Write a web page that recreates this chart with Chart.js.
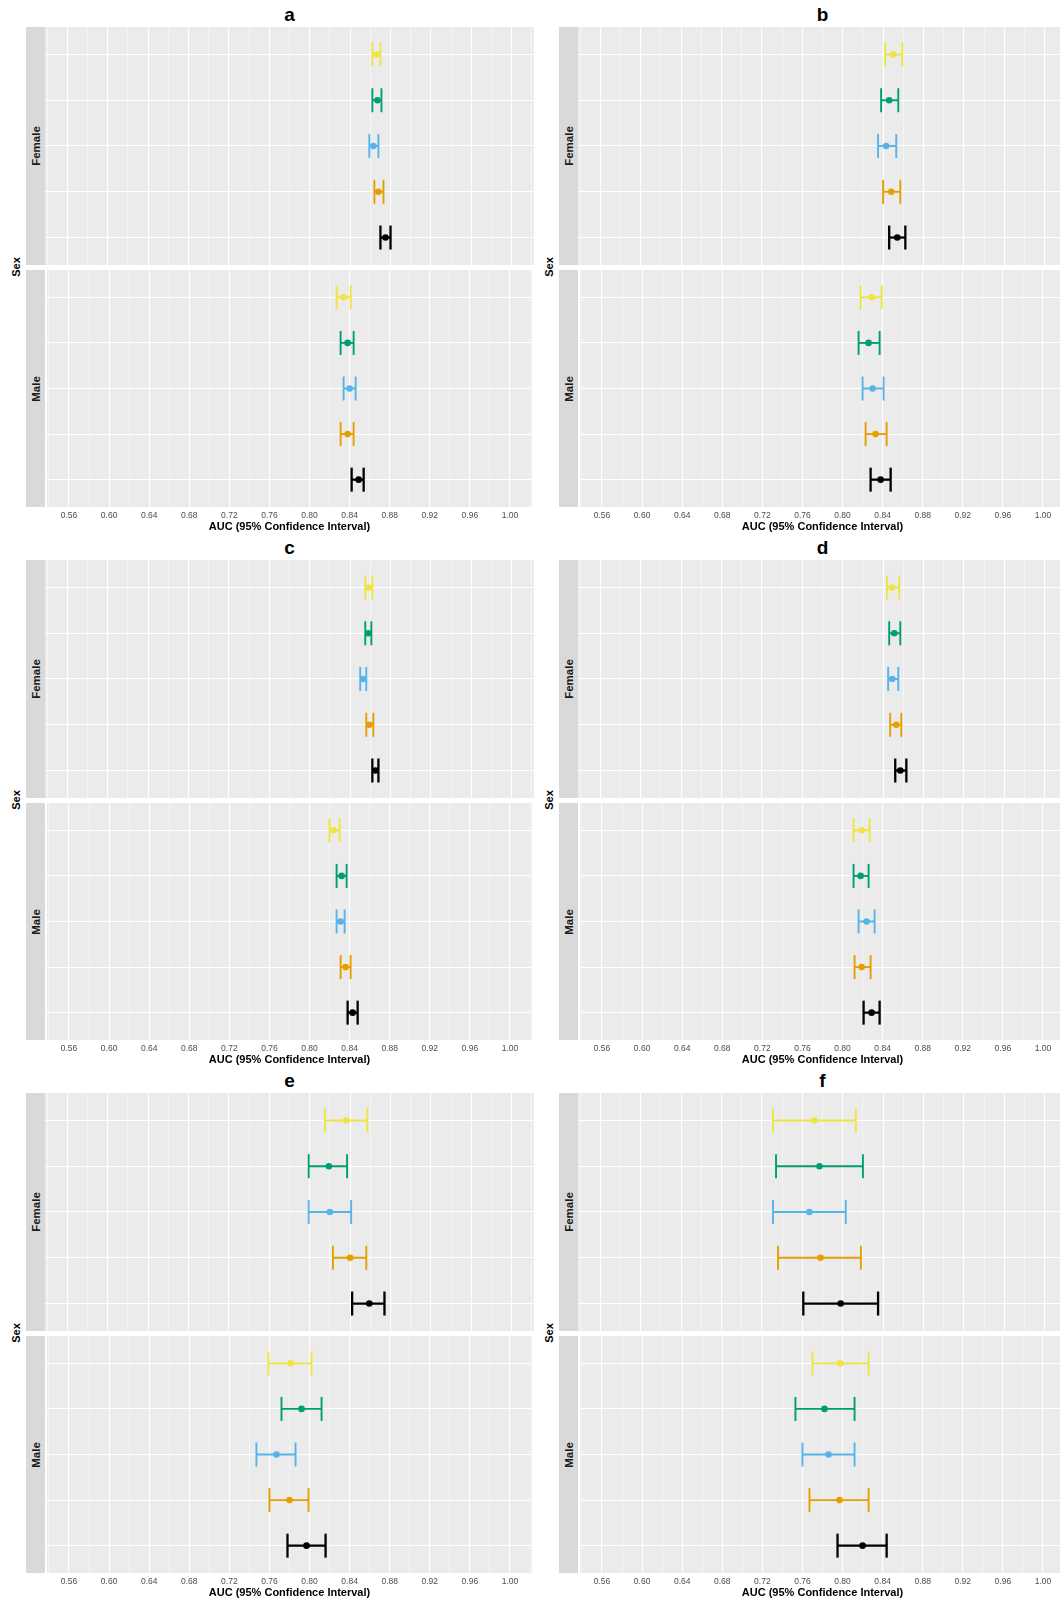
<!DOCTYPE html>
<html>
<head>
<meta charset="utf-8">
<script src="https://cdn.jsdelivr.net/npm/chart.js@4.4.1/dist/chart.umd.min.js"></script>
<style>
	body { margin: 0; background: #fff; font-family: 'Liberation Sans', Arial, sans-serif; overflow: hidden; }
	#page { position: relative; width: 1060px; height: 1600px; overflow: hidden; }
	.abs { position: absolute; }
	.title { font-weight: bold; font-size: 19px; color: #000; text-align: center; width: 40px; line-height: 20px; }
	.strip { background: #d9d9d9; }
	.rot { position: absolute; left: 50%; top: 50%; transform: translate(-50%, -50%) rotate(-90deg); white-space: nowrap; font-weight: bold; font-size: 11.5px; }
	.strip .rot { color: #1a1a1a; }
	.ylab .rot { color: #000; font-size: 11px; }
	canvas { position: absolute; }
</style>
</head>
<body>
<div id="page"></div>
<script>
	// models in plotting order (top to bottom within each facet)
	var models = ['Model 1', 'Model 2', 'Model 3', 'Model 4', 'Model 5'];
	var modelColors = ['#F0E442', '#009E73', '#56B4E9', '#E69F00', '#000000'];
	var sexes = ['Female', 'Male'];
	var panelLabels = ['a', 'b', 'c', 'd', 'e', 'f'];
	var xLimits = [0.56, 1.00];
	var xMajorTicks = [0.56, 0.60, 0.64, 0.68, 0.72, 0.76, 0.80, 0.84, 0.88, 0.92, 0.96, 1.00];
	var xMinorTicks = [0.54, 0.58, 0.62, 0.66, 0.70, 0.74, 0.78, 0.82, 0.86, 0.90, 0.94, 0.98, 1.02];

	// AUC and 95% CI per panel / sex
	var aFemaleAuc = [0.866, 0.867, 0.863, 0.868, 0.875];
	var aFemaleLo  = [0.862, 0.862, 0.859, 0.864, 0.870];
	var aFemaleHi  = [0.870, 0.871, 0.868, 0.873, 0.880];
	var aMaleAuc   = [0.834, 0.838, 0.840, 0.838, 0.849];
	var aMaleLo    = [0.827, 0.831, 0.834, 0.831, 0.842];
	var aMaleHi    = [0.841, 0.844, 0.846, 0.844, 0.854];

	var bFemaleAuc = [0.850, 0.846, 0.843, 0.848, 0.854];
	var bFemaleLo  = [0.842, 0.838, 0.835, 0.840, 0.846];
	var bFemaleHi  = [0.859, 0.855, 0.853, 0.857, 0.862];
	var bMaleAuc   = [0.829, 0.826, 0.830, 0.833, 0.838];
	var bMaleLo    = [0.818, 0.816, 0.820, 0.823, 0.828];
	var bMaleHi    = [0.839, 0.837, 0.841, 0.844, 0.848];

	var cFemaleAuc = [0.858, 0.858, 0.853, 0.859, 0.865];
	var cFemaleLo  = [0.855, 0.855, 0.850, 0.856, 0.862];
	var cFemaleHi  = [0.862, 0.861, 0.856, 0.863, 0.868];
	var cMaleAuc   = [0.824, 0.832, 0.831, 0.836, 0.843];
	var cMaleLo    = [0.820, 0.827, 0.827, 0.831, 0.838];
	var cMaleHi    = [0.830, 0.837, 0.835, 0.841, 0.848];

	var dFemaleAuc = [0.849, 0.851, 0.849, 0.853, 0.857];
	var dFemaleLo  = [0.844, 0.846, 0.845, 0.847, 0.852];
	var dFemaleHi  = [0.856, 0.857, 0.855, 0.858, 0.863];
	var dMaleAuc   = [0.819, 0.818, 0.824, 0.819, 0.829];
	var dMaleLo    = [0.811, 0.811, 0.816, 0.812, 0.821];
	var dMaleHi    = [0.827, 0.826, 0.832, 0.828, 0.837];

	var eFemaleAuc = [0.836, 0.819, 0.820, 0.840, 0.859];
	var eFemaleLo  = [0.815, 0.799, 0.799, 0.823, 0.842];
	var eFemaleHi  = [0.857, 0.837, 0.841, 0.856, 0.874];
	var eMaleAuc   = [0.781, 0.792, 0.767, 0.780, 0.797];
	var eMaleLo    = [0.759, 0.772, 0.747, 0.760, 0.778];
	var eMaleHi    = [0.802, 0.812, 0.786, 0.799, 0.816];

	var fFemaleAuc = [0.772, 0.777, 0.767, 0.778, 0.798];
	var fFemaleLo  = [0.731, 0.734, 0.731, 0.736, 0.761];
	var fFemaleHi  = [0.813, 0.820, 0.803, 0.818, 0.835];
	var fMaleAuc   = [0.798, 0.782, 0.786, 0.797, 0.820];
	var fMaleLo    = [0.770, 0.753, 0.760, 0.767, 0.795];
	var fMaleHi    = [0.826, 0.812, 0.812, 0.826, 0.844];

	var panels = [
		[[aFemaleAuc, aFemaleLo, aFemaleHi], [aMaleAuc, aMaleLo, aMaleHi]],
		[[bFemaleAuc, bFemaleLo, bFemaleHi], [bMaleAuc, bMaleLo, bMaleHi]],
		[[cFemaleAuc, cFemaleLo, cFemaleHi], [cMaleAuc, cMaleLo, cMaleHi]],
		[[dFemaleAuc, dFemaleLo, dFemaleHi], [dMaleAuc, dMaleLo, dMaleHi]],
		[[eFemaleAuc, eFemaleLo, eFemaleHi], [eMaleAuc, eMaleLo, eMaleHi]],
		[[fFemaleAuc, fFemaleLo, fFemaleHi], [fMaleAuc, fMaleLo, fMaleHi]]
	];

	// layout (px); the right column runs past the page edge, as in the source figure
	var colX = [45, 578];
	var rowY = [27, 560, 1093];
	var plotW = 489;
	var facetH = [238, 237];
	var facetGap = 5;
	var axisH = 28;
	var stripW = 19;

	var xPad = (xLimits[1] - xLimits[0]) * 0.05;
	var xTickValues = xMajorTicks.concat(xMinorTicks).sort(function(a, b) { return a - b; });
	function isMajor(v) {
		return xMajorTicks.some(function(m) { return Math.abs(m - v) < 1e-9; });
	}

	Chart.defaults.font.family = "'Liberation Sans', Arial, sans-serif";
	Chart.defaults.animation = false;
	Chart.defaults.plugins.legend.display = false;
	Chart.defaults.plugins.tooltip.enabled = false;

	var panelBg = {
		id: 'panelBg',
		beforeDraw: function(chart) {
			var a = chart.chartArea, ctx = chart.ctx;
			ctx.save();
			ctx.fillStyle = '#ebebeb';
			ctx.fillRect(a.left, a.top, a.right - a.left, a.bottom - a.top);
			ctx.restore();
		}
	};

	var page = document.getElementById('page');
	function addDiv(cls, left, top, width, height, html) {
		var d = document.createElement('div');
		d.className = 'abs ' + cls;
		d.style.left = left + 'px';
		d.style.top = top + 'px';
		if (width !== null) d.style.width = width + 'px';
		if (height !== null) d.style.height = height + 'px';
		d.innerHTML = html;
		page.appendChild(d);
		return d;
	}

	function facetChart(left, top, values, showAxis) {
		var auc = values[0], lo = values[1], hi = values[2];
		var canvas = document.createElement('canvas');
		var h = facetH[showAxis ? 1 : 0] + (showAxis ? axisH : 0);
		canvas.width = plotW;
		canvas.height = h;
		canvas.style.left = left + 'px';
		canvas.style.top = top + 'px';
		page.appendChild(canvas);

		var datasets = models.map(function(m, i) {
			var w = i === 4 ? 2.3 : 1.9;
			return {
				label: m,
				showLine: true,
				data: [{ x: lo[i], y: i }, { x: hi[i], y: i }],
				borderColor: modelColors[i],
				borderWidth: w,
				pointStyle: 'line',
				pointRotation: 90,
				pointRadius: 12,
				pointHoverRadius: 12,
				pointBorderColor: modelColors[i],
				pointBorderWidth: w
			};
		});
		datasets.push({
			label: 'AUC',
			data: auc.map(function(v, i) { return { x: v, y: i }; }),
			pointRadius: 3.3,
			pointHoverRadius: 3.3,
			pointBackgroundColor: modelColors,
			pointBorderColor: modelColors,
			pointBorderWidth: 0
		});

		return new Chart(canvas, {
			type: 'scatter',
			data: { datasets: datasets },
			plugins: [panelBg],
			options: {
				responsive: false,
				devicePixelRatio: 1,
				layout: { autoPadding: false, padding: 0 },
				scales: {
					x: {
						type: 'linear',
						min: xLimits[0] - xPad,
						max: xLimits[1] + xPad,
						afterBuildTicks: function(s) { s.ticks = xTickValues.map(function(v) { return { value: v }; }); },
						afterFit: function(s) { s.height = showAxis ? axisH : 0; },
						border: { display: false },
						grid: {
							color: '#ffffff',
							drawTicks: false,
							lineWidth: function(ctx) { return ctx.tick && isMajor(ctx.tick.value) ? 1.1 : 0.5; }
						},
						ticks: {
							display: showAxis,
							autoSkip: false,
							maxRotation: 0,
							padding: 4,
							color: '#4d4d4d',
							font: { size: 8.5 },
							callback: function(v) { return isMajor(v) ? v.toFixed(2) : ''; }
						},
						title: {
							display: showAxis,
							text: 'AUC (95% Confidence Interval)',
							color: '#000',
							font: { size: 11, weight: 'bold' },
							padding: { top: 0, bottom: 1 }
						}
					},
					y: {
						type: 'linear',
						reverse: true,
						min: -0.6,
						max: models.length - 0.4,
						afterBuildTicks: function(s) { s.ticks = models.map(function(m, i) { return { value: i }; }); },
						afterFit: function(s) { s.width = 0; },
						border: { display: false },
						grid: { color: '#ffffff', lineWidth: 1.1, drawTicks: false },
						ticks: { display: false }
					}
				}
			}
		});
	}

	panels.forEach(function(p, k) {
		var col = k % 2, row = Math.floor(k / 2);
		var x0 = colX[col], y0 = rowY[row];
		var totalH = facetH[0] + facetGap + facetH[1];

		addDiv('title', x0 + plotW / 2 - 20, y0 - 22, 40, 20, panelLabels[k]);
		addDiv('ylab', x0 - 29.5, y0, 0, totalH, '<span class="rot">Sex</span>');

		var yF = y0, yM = y0 + facetH[0] + facetGap;
		addDiv('strip', x0 - stripW, yF, stripW, facetH[0], '<span class="rot">' + sexes[0] + '</span>');
		addDiv('strip', x0 - stripW, yM, stripW, facetH[1], '<span class="rot">' + sexes[1] + '</span>');

		facetChart(x0, yF, p[0], false);
		facetChart(x0, yM, p[1], true);
	});
</script>
</body>
</html>
